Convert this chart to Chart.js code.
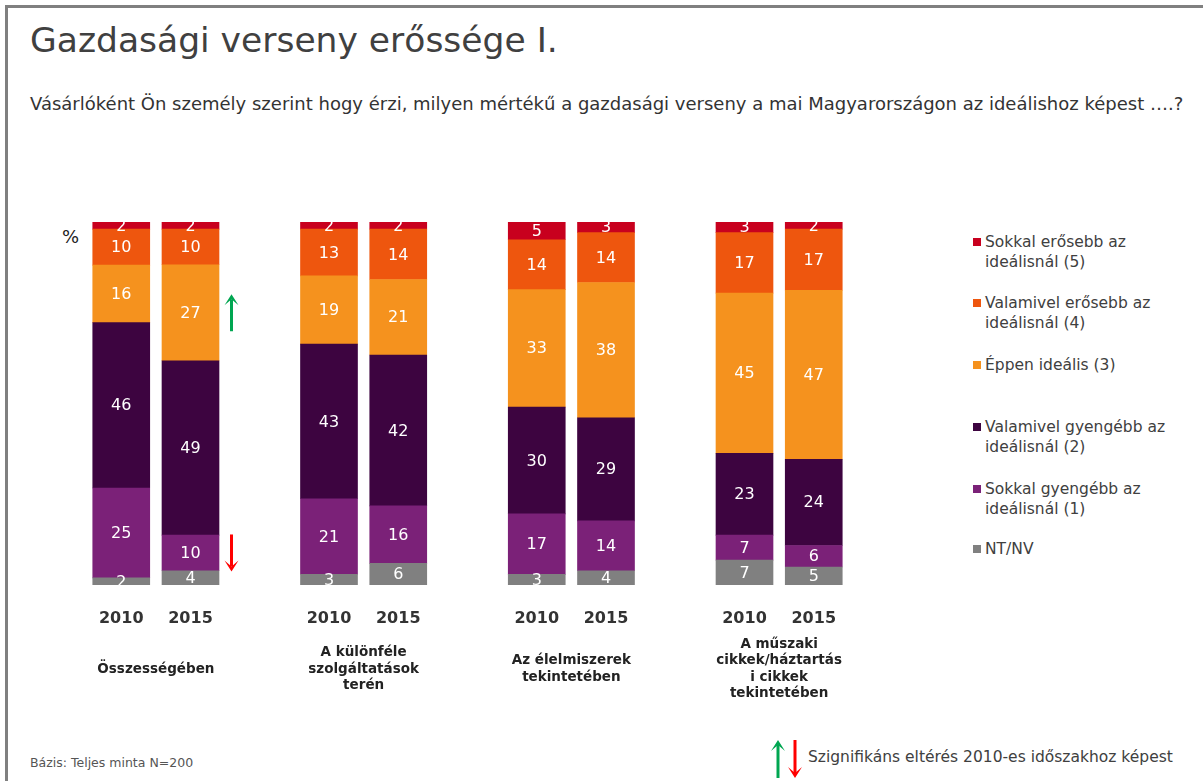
<!DOCTYPE html>
<html>
<head>
<meta charset="utf-8">
<script src="https://cdn.jsdelivr.net/npm/chart.js@4.4.0/dist/chart.umd.min.js"></script>
<style>
html, body { margin: 0; padding: 0; background: #fff; width: 1203px; height: 781px; overflow: hidden; font-family: "DejaVu Sans", sans-serif; }
#frame { position: absolute; left: 5px; top: 5px; width: 1400px; height: 1000px; border: 3px solid #808080; box-sizing: border-box; }
#title { position: absolute; left: 30px; top: 20px; font-size: 34.5px; line-height: 40px; color: #404040; white-space: nowrap; }
#subtitle { position: absolute; left: 30px; top: 93px; font-size: 18px; line-height: 22px; color: #333; white-space: nowrap; }
#pct { position: absolute; left: 62px; top: 226px; font-size: 18px; color: #222; }
#chartBox { position: absolute; left: 0; top: 200px; width: 960px; height: 520px; }
.leg { position: absolute; left: 973px; font-size: 15.5px; line-height: 20px; color: #404040; }
.leg i { position: absolute; left: 0; top: 6px; width: 8px; height: 8px; }
.leg span { display: block; margin-left: 12px; white-space: nowrap; }
#basis { position: absolute; left: 30px; top: 755px; font-size: 12.5px; color: #555; }
#sigNote { position: absolute; left: 770px; top: 739px; font-size: 15.5px; color: #404040; white-space: nowrap; }
#sigNote span { position: absolute; left: 38px; top: 9px; }
</style>
</head>
<body>
<div id="frame"></div>
<div id="title">Gazdasági verseny erőssége I.</div>
<div id="subtitle">Vásárlóként Ön személy szerint hogy érzi, milyen mértékű a gazdasági verseny a mai Magyarországon az ideálishoz képest ….?</div>
<div id="pct">%</div>
<div id="chartBox"><canvas id="barChart" width="960" height="520"></canvas></div>
<div id="legend"></div>
<div id="basis">Bázis: Teljes minta N=200</div>
<div id="sigNote">
  <svg width="34" height="40" viewBox="0 0 34 40">
    <line x1="8" y1="39" x2="8" y2="6" stroke="#00a651" stroke-width="3"/>
    <polygon points="1,12 8,1 15,12 8,6" fill="#00a651"/>
    <line x1="25" y1="1" x2="25" y2="34" stroke="#ff0000" stroke-width="3"/>
    <polygon points="18,28 25,39 32,28 25,34" fill="#ff0000"/>
  </svg>
  <span>Szignifikáns eltérés 2010-es időszakhoz képest</span>
</div>

<script>
// bar order: group1 2010, group1 2015, group2 2010, ...
const groupLabels = [
    ['Összességében'],
    ['A különféle', 'szolgáltatások', 'terén'],
    ['Az élelmiszerek', 'tekintetében'],
    ['A műszaki', 'cikkek/háztartás', 'i cikkek', 'tekintetében']
];
const years = ['2010', '2015'];

const ntnv              = [2, 4, 3, 6, 3, 4, 7, 5];
const sokkalGyengebb    = [25, 10, 21, 16, 17, 14, 7, 6];
const valamivelGyengebb = [46, 49, 43, 42, 30, 29, 23, 24];
const eppenIdealis      = [16, 27, 19, 21, 33, 38, 45, 47];
const valamivelErosebb  = [10, 10, 13, 14, 14, 14, 17, 17];
const sokkalErosebb     = [2, 2, 2, 2, 5, 3, 3, 2];

const seriesNames = [
    'NT/NV',
    'Sokkal gyengébb az ideálisnál (1)',
    'Valamivel gyengébb az ideálisnál (2)',
    'Éppen ideális (3)',
    'Valamivel erősebb az ideálisnál (4)',
    'Sokkal erősebb az ideálisnál (5)'
];
const legendLines = [
    ['NT/NV'],
    ['Sokkal gyengébb az', 'ideálisnál (1)'],
    ['Valamivel gyengébb az', 'ideálisnál (2)'],
    ['Éppen ideális (3)'],
    ['Valamivel erősebb az', 'ideálisnál (4)'],
    ['Sokkal erősebb az', 'ideálisnál (5)']
];

// significant changes vs 2010: bar index, series index, direction
const significance = [
    { bar: 1, series: 3, dir: 'up' },
    { bar: 1, series: 1, dir: 'down' }
];

const seriesValues = [ntnv, sokkalGyengebb, valamivelGyengebb, eppenIdealis, valamivelErosebb, sokkalErosebb];
const colors = ['#808080', '#7b2178', '#3d0440', '#f5921e', '#ee560e', '#c8001e'];
// legend rows (top of first line), top to bottom = series 5..0
const legendTops = [232, 293, 355, 417, 479, 539];

function barX(i) {
    return Math.floor(i / 2) * 3 + (i % 2);
}

function barTotals() {
    return ntnv.map((_, i) => seriesValues.reduce((s, arr) => s + arr[i], 0));
}

function buildLegend() {
    const box = document.getElementById('legend');
    for (let k = 0; k < seriesNames.length; k++) {
        const si = seriesNames.length - 1 - k;
        const div = document.createElement('div');
        div.className = 'leg';
        div.style.top = legendTops[k] + 'px';
        div.innerHTML = '<i style="background:' + colors[si] + '"></i>' +
            legendLines[si].map(l => '<span>' + l + '</span>').join('');
        box.appendChild(div);
    }
}

function drawArrow(ctx, x, yc, dir, color) {
    const len = 37, headH = 11, headW = 7;
    const top = yc - len / 2, bot = yc + len / 2;
    ctx.strokeStyle = color;
    ctx.fillStyle = color;
    ctx.lineWidth = 3;
    ctx.beginPath();
    if (dir === 'up') {
        ctx.moveTo(x, bot); ctx.lineTo(x, top + 5);
        ctx.stroke();
        ctx.beginPath();
        ctx.moveTo(x - headW, top + headH); ctx.lineTo(x, top); ctx.lineTo(x + headW, top + headH); ctx.lineTo(x, top + 5);
    } else {
        ctx.moveTo(x, top); ctx.lineTo(x, bot - 5);
        ctx.stroke();
        ctx.beginPath();
        ctx.moveTo(x - headW, bot - headH); ctx.lineTo(x, bot); ctx.lineTo(x + headW, bot - headH); ctx.lineTo(x, bot - 5);
    }
    ctx.closePath();
    ctx.fill();
}

const segLabels = {
    id: 'segLabels',
    afterDatasetsDraw(chart) {
        const ctx = chart.ctx;
        const a = chart.chartArea;
        ctx.save();
        ctx.beginPath();
        ctx.rect(a.left, a.top, a.right - a.left, a.bottom - a.top);
        ctx.clip();
        ctx.font = '16px "DejaVu Sans"';
        ctx.fillStyle = '#ffffff';
        ctx.textAlign = 'center';
        ctx.textBaseline = 'middle';
        chart.data.datasets.forEach((ds, di) => {
            chart.getDatasetMeta(di).data.forEach((bar, i) => {
                ctx.fillText(String(seriesValues[di][i]), bar.x, (bar.y + bar.base) / 2 + 1);
            });
        });
        ctx.restore();

        ctx.save();
        significance.forEach(s => {
            const bar = chart.getDatasetMeta(s.series).data[s.bar];
            const yc = (bar.y + bar.base) / 2;
            drawArrow(ctx, bar.x + 41, yc, s.dir, s.dir === 'up' ? '#00a651' : '#ff0000');
        });
        ctx.restore();

        // group captions under the year ticks
        const xs = chart.scales.x;
        ctx.save();
        ctx.font = 'bold 13.5px "DejaVu Sans"';
        ctx.fillStyle = '#222';
        ctx.textAlign = 'center';
        ctx.textBaseline = 'middle';
        groupLabels.forEach((lines, g) => {
            const x = xs.getPixelForValue(g * 3 + 0.5);
            const y0 = a.bottom + 84 - (lines.length - 1) * 16.5 / 2;
            lines.forEach((l, j) => ctx.fillText(l, x, y0 + j * 16.5));
        });
        ctx.restore();
    }
};

function buildChart() {
    const totals = barTotals();
    const ctx = document.getElementById('barChart').getContext('2d');

    const datasets = seriesValues.map((vals, si) => ({
        label: seriesNames[si],
        data: vals.map((v, i) => ({ x: barX(i), y: v / totals[i] * 100 })),
        backgroundColor: colors[si],
        borderWidth: 0,
        barThickness: 57
    }));

    new Chart(ctx, {
        type: 'bar',
        data: { datasets: datasets },
        options: {
            responsive: false,
            animation: false,
            devicePixelRatio: 1,
            layout: { padding: { left: 52, right: 77, top: 22, bottom: 0 } },
            plugins: {
                legend: { display: false },
                title: { display: false },
                tooltip: { enabled: false }
            },
            scales: {
                x: {
                    type: 'linear',
                    offset: false,
                    min: -1,
                    max: 11,
                    stacked: true,
                    grid: { display: false, drawTicks: false },
                    border: { display: false },
                    afterFit: function (scale) { scale.height = 135; },
                    ticks: {
                        stepSize: 1,
                        autoSkip: false,
                        maxRotation: 0,
                        padding: 24,
                        color: '#333',
                        font: { family: 'DejaVu Sans', size: 16, weight: 'bold' },
                        callback: function (v) {
                            for (let i = 0; i < ntnv.length; i++) {
                                if (barX(i) === v) return years[i % 2];
                            }
                            return '';
                        }
                    }
                },
                y: {
                    display: false,
                    stacked: true,
                    min: 0,
                    max: 100
                }
            }
        },
        plugins: [segLabels]
    });
}

buildLegend();
buildChart();
</script>
</body>
</html>
